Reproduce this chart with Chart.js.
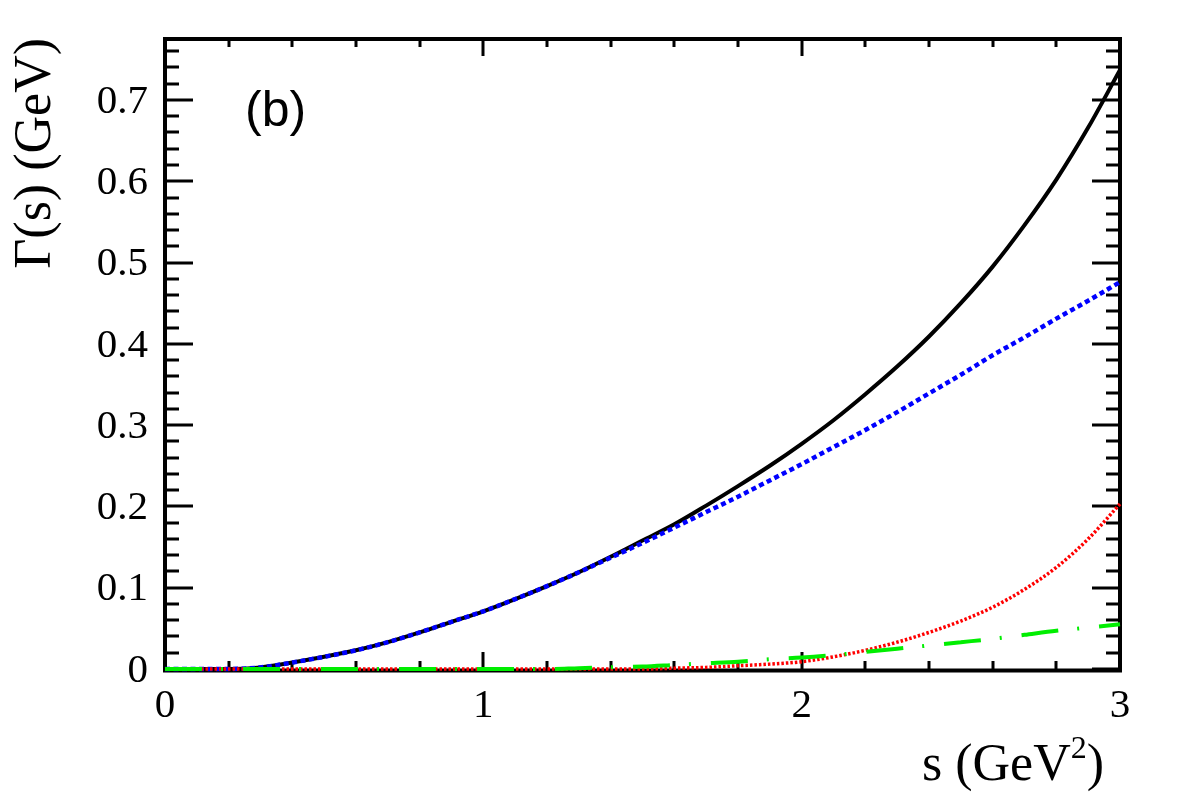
<!DOCTYPE html>
<html>
<head>
<meta charset="utf-8">
<script src="https://cdn.jsdelivr.net/npm/chart.js@4/dist/chart.umd.min.js"></script>
<style>
  body { margin: 0; background: #fff; }
  canvas { display: block; }
</style>
</head>
<body>
<canvas id="widthChart" width="1182" height="800"></canvas>
<script>
// s values (GeV^2) and partial widths (GeV)
const sValues = [0.0, 0.1, 0.2, 0.3, 0.4, 0.5, 0.6, 0.7, 0.8, 0.9,
                 1.0, 1.1, 1.2, 1.3, 1.4, 1.5, 1.6, 1.7, 1.8, 1.9,
                 2.0, 2.1, 2.2, 2.3, 2.4, 2.5, 2.6, 2.7, 2.8, 2.9, 3.0];

const totalWidth = [0, 0, 0, 0.002, 0.008, 0.015, 0.023, 0.033, 0.045, 0.058,
                    0.071, 0.086, 0.102, 0.119, 0.138, 0.158, 0.178, 0.201, 0.225, 0.250,
                    0.277, 0.306, 0.338, 0.372, 0.409, 0.450, 0.495, 0.546, 0.602, 0.666, 0.737];

const blueWidth = [0, 0, 0, 0.002, 0.008, 0.015, 0.023, 0.033, 0.045, 0.058,
                   0.071, 0.086, 0.102, 0.119, 0.137, 0.155, 0.174, 0.193, 0.212, 0.232,
                   0.252, 0.273, 0.294, 0.316, 0.339, 0.362, 0.386, 0.408, 0.431, 0.453, 0.476];

const redWidth = [0, 0, 0, 0, 0, 0, 0, 0, 0, 0,
                  0, 0, 0, 0, 0, 0, 0.001, 0.002, 0.004, 0.006,
                  0.009, 0.015, 0.023, 0.033, 0.045, 0.059, 0.076, 0.098, 0.125, 0.160, 0.203];

const greenWidth = [0, 0, 0, 0, 0, 0, 0, 0, 0, 0,
                    0, 0, 0, 0.001, 0.002, 0.003, 0.005, 0.007, 0.009, 0.012,
                    0.014, 0.017, 0.021, 0.025, 0.029, 0.033, 0.037, 0.042, 0.047, 0.051, 0.055];

const xTickLabels = [0, 1, 2, 3];
const yTickLabels = [0, 0.1, 0.2, 0.3, 0.4, 0.5, 0.6, 0.7];

function toPoints(ys) {
    return sValues.map((s, i) => ({ x: s, y: ys[i] }));
}

// ROOT-style frame, inward ticks and labels
const rootFrame = {
    id: 'rootFrame',
    beforeDatasetsDraw(chart) {
        const ctx = chart.ctx;
        const xs = chart.scales.x;
        const ys = chart.scales.y;
        const left = xs.getPixelForValue(0);
        const right = xs.getPixelForValue(3);
        const bottom = ys.getPixelForValue(0);
        const top = ys.getPixelForValue(ys.max);

        ctx.save();
        ctx.strokeStyle = '#000';
        ctx.lineWidth = 3;
        ctx.beginPath();
        // x ticks every 0.2, major at integers
        for (let i = 0; i <= 15; i++) {
            const v = i * 0.2;
            const px = Math.round(xs.getPixelForValue(v));
            const len = (i % 5 === 0) ? 17 : 8;
            ctx.moveTo(px, bottom); ctx.lineTo(px, bottom - len);
            ctx.moveTo(px, top); ctx.lineTo(px, top + len);
        }
        // y ticks every 0.02, major every 0.1
        for (let i = 0; i <= 38; i++) {
            const v = i * 0.02;
            if (v > ys.max) break;
            const py = Math.round(ys.getPixelForValue(v));
            const len = (i % 5 === 0) ? 28 : 14;
            ctx.moveTo(left, py); ctx.lineTo(left + len, py);
            ctx.moveTo(right, py); ctx.lineTo(right - len, py);
        }
        ctx.stroke();

        ctx.lineWidth = 4;
        ctx.strokeRect(left, top, right - left, bottom - top + 1.5);
        ctx.restore();
    },
    afterDraw(chart) {
        const ctx = chart.ctx;
        const xs = chart.scales.x;
        const ys = chart.scales.y;
        const left = xs.getPixelForValue(0);

        ctx.save();
        // tick labels
        ctx.fillStyle = '#000';
        ctx.font = '41px "Liberation Serif"';
        ctx.textAlign = 'right';
        ctx.textBaseline = 'middle';
        yTickLabels.forEach(v => {
            ctx.fillText(String(v), left - 17, ys.getPixelForValue(v) + 2);
        });
        ctx.textAlign = 'center';
        ctx.textBaseline = 'alphabetic';
        xTickLabels.forEach(v => {
            ctx.fillText(String(v), xs.getPixelForValue(v), 717);
        });

        // x title with superscript
        ctx.font = '52px "Liberation Serif"';
        ctx.textAlign = 'left';
        const part1 = 's (GeV';
        const part3 = ')';
        const w1 = ctx.measureText(part1).width;
        const w3 = ctx.measureText(part3).width;
        ctx.font = '32px "Liberation Serif"';
        const w2 = ctx.measureText('2').width;
        const x0 = 1104 - w1 - w2 - w3;
        ctx.font = '52px "Liberation Serif"';
        ctx.fillText(part1, x0, 780);
        ctx.font = '32px "Liberation Serif"';
        ctx.fillText('2', x0 + w1, 758);
        ctx.font = '52px "Liberation Serif"';
        ctx.fillText(part3, x0 + w1 + w2, 780);

        // y title
        ctx.save();
        ctx.translate(50, 38);
        ctx.rotate(-Math.PI / 2);
        ctx.textAlign = 'right';
        ctx.font = '52px "Liberation Serif"';
        ctx.fillText('\u0393(s) (GeV)', 0, 0);
        ctx.restore();

        // panel label
        ctx.font = '50px "Liberation Sans"';
        ctx.textAlign = 'left';
        ctx.fillText('(b)', 245, 126);
        ctx.restore();
    }
};

new Chart(document.getElementById('widthChart'), {
    type: 'line',
    data: {
        datasets: [
            {
                label: 'total',
                data: toPoints(totalWidth),
                borderColor: '#000000',
                borderWidth: 4,
                order: 4
            },
            {
                label: 'blue',
                data: toPoints(blueWidth),
                borderColor: '#0000ff',
                borderWidth: 4.5,
                borderDash: [5, 3.5],
                order: 3
            },
            {
                label: 'red',
                data: toPoints(redWidth),
                borderColor: '#ff0000',
                borderWidth: 3.5,
                borderDash: [2.5, 2],
                order: 2
            },
            {
                label: 'green',
                data: toPoints(greenWidth),
                borderColor: '#00ee00',
                borderWidth: 4,
                borderDash: [37, 19, 2, 20],
                order: 1
            }
        ]
    },
    options: {
        responsive: false,
        animation: false,
        layout: {
            padding: { left: 165, right: 62, top: 39, bottom: 131 }
        },
        datasets: {
            line: { clip: false }
        },
        elements: {
            point: { radius: 0 },
            line: { cubicInterpolationMode: 'monotone', fill: false }
        },
        scales: {
            x: { type: 'linear', min: 0, max: 3, display: false },
            y: { type: 'linear', min: 0, max: 0.775, display: false }
        },
        plugins: {
            legend: { display: false },
            tooltip: { enabled: false }
        }
    },
    plugins: [rootFrame]
});
</script>
</body>
</html>
